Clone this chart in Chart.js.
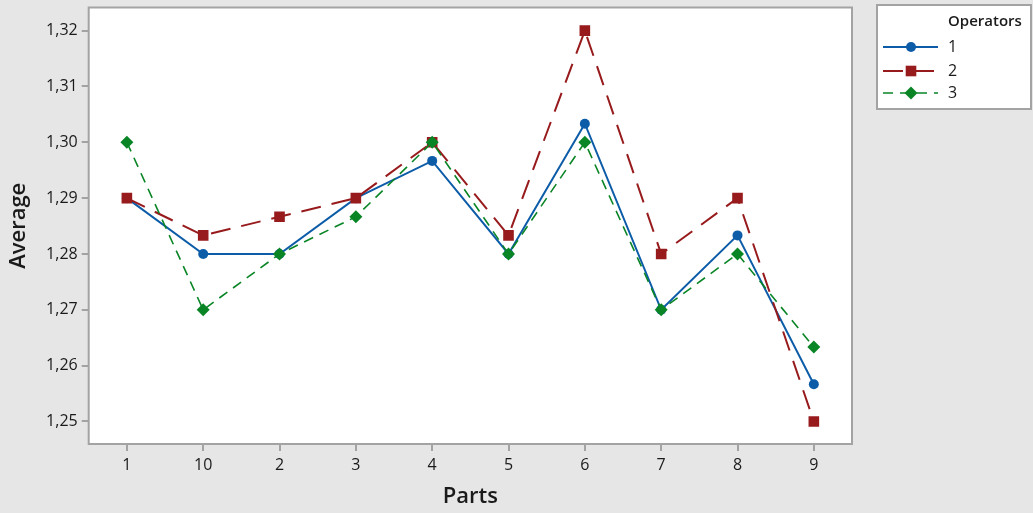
<!DOCTYPE html>
<html>
<head>
<meta charset="utf-8">
<script src="https://cdn.jsdelivr.net/npm/chart.js@4/dist/chart.umd.min.js"></script>
<style>
  html, body { margin: 0; padding: 0; background: #e6e6e6; }
  #wrap { width: 1033px; height: 513px; position: relative; }
</style>
</head>
<body>
<div id="wrap"><canvas id="c" width="1033" height="513"></canvas></div>
<script>
// Parts on the x axis (in the order they appear)
const parts = ['1', '10', '2', '3', '4', '5', '6', '7', '8', '9'];

// Average measurement per part for each operator
const operator1 = [1.29, 1.28, 1.28, 1.29, 1.29667, 1.28, 1.30333, 1.27, 1.28333, 1.25667];
const operator2 = [1.29, 1.28333, 1.28667, 1.29, 1.30, 1.28333, 1.32, 1.28, 1.29, 1.25];
const operator3 = [1.30, 1.27, 1.28, 1.28667, 1.30, 1.28, 1.30, 1.27, 1.28, 1.26333];

// Y axis tick values
const yTicks = [1.25, 1.26, 1.27, 1.28, 1.29, 1.30, 1.31, 1.32];

const operatorNames = ['1', '2', '3'];

const FONT = "'Open Sans', 'Noto Sans', sans-serif";
const GREY = '#a3a3a3';

// Plot frame and legend box
const framePlugin = {
  id: 'frame',
  beforeDraw(chart) {
    const { ctx, chartArea: a } = chart;
    ctx.save();
    ctx.fillStyle = '#e6e6e6';
    ctx.fillRect(0, 0, chart.width, chart.height);
    ctx.fillStyle = '#ffffff';
    ctx.fillRect(a.left, a.top, a.right - a.left, a.bottom - a.top);
    ctx.restore();
  },
  afterDatasetsDraw(chart) {
    const { ctx, chartArea: a } = chart;
    ctx.save();
    ctx.strokeStyle = GREY;
    ctx.lineWidth = 2;
    ctx.strokeRect(a.left, a.top, a.right - a.left, a.bottom - a.top);
    ctx.restore();
  },
  afterDraw(chart) {
    const { ctx } = chart;
    const bx = 877, by = 5, bw = 154, bh = 104;
    ctx.save();
    ctx.fillStyle = '#ffffff';
    ctx.fillRect(bx, by, bw, bh);
    ctx.strokeStyle = GREY;
    ctx.lineWidth = 2;
    ctx.strokeRect(bx, by, bw, bh);

    ctx.fillStyle = '#1a1a1a';
    ctx.textBaseline = 'middle';
    ctx.textAlign = 'left';
    ctx.font = '600 15px ' + FONT;
    ctx.fillText('Operators', 948, 22);

    const rows = [47, 71, 93];
    chart.data.datasets.forEach((ds, i) => {
      const y = rows[i];
      ctx.save();
      ctx.strokeStyle = ds.borderColor;
      ctx.lineWidth = ds.borderWidth;
      ctx.setLineDash(ds.borderDash || []);
      ctx.beginPath();
      ctx.moveTo(883, y);
      ctx.lineTo(938, y);
      ctx.stroke();
      ctx.restore();
      ctx.save();
      ctx.fillStyle = ds.pointBackgroundColor;
      ctx.strokeStyle = ds.pointBorderColor;
      Chart.helpers.drawPoint(ctx, {
        pointStyle: ds.pointStyle,
        radius: ds.pointRadius,
        borderWidth: 0,
        rotation: 0
      }, 911, y);
      ctx.restore();
      ctx.fillStyle = '#1a1a1a';
      ctx.font = '400 16px ' + FONT;
      ctx.fillText(operatorNames[i], 948, y);
    });
    ctx.restore();
  }
};

const blue = '#0d5ca8';
const red = '#971a1c';
const green = '#0a8526';

new Chart(document.getElementById('c'), {
  type: 'line',
  data: {
    labels: parts,
    datasets: [
      {
        label: operatorNames[0], data: operator1, order: 3,
        borderColor: blue, borderWidth: 2, borderDash: [],
        pointStyle: 'circle', pointRadius: 5,
        pointBackgroundColor: blue, pointBorderColor: blue, pointBorderWidth: 0
      },
      {
        label: operatorNames[1], data: operator2, order: 2,
        borderColor: red, borderWidth: 2, borderDash: [20, 11],
        pointStyle: 'rect', pointRadius: 7.5,
        pointBackgroundColor: red, pointBorderColor: red, pointBorderWidth: 0
      },
      {
        label: operatorNames[2], data: operator3, order: 1,
        borderColor: green, borderWidth: 1.6, borderDash: [10, 7],
        pointStyle: 'rectRot', pointRadius: 6.5,
        pointBackgroundColor: green, pointBorderColor: green, pointBorderWidth: 0
      }
    ]
  },
  options: {
    responsive: false,
    animation: false,
    events: [],
    layout: { padding: { top: 5, right: 181, bottom: 0, left: 0 } },
    elements: { line: { tension: 0 } },
    plugins: {
      legend: { display: false },
      tooltip: { enabled: false }
    },
    scales: {
      x: {
        type: 'category',
        offset: true,
        grid: { drawOnChartArea: false, drawTicks: true, tickLength: 7, color: GREY, lineWidth: 2, offset: false },
        border: { display: false },
        ticks: { color: '#1a1a1a', font: { family: FONT, size: 16 }, padding: 5, maxRotation: 0, autoSkip: false },
        title: { display: true, text: 'Parts', color: '#1a1a1a', font: { family: FONT, size: 22, weight: '600' }, padding: { top: 0, bottom: 3 } },
        afterFit(scale) { scale.height = 69; scale.paddingLeft = 0; scale.paddingRight = 0; }
      },
      y: {
        min: 1.24596,
        max: 1.32415,
        grid: { drawOnChartArea: false, drawTicks: true, tickLength: 7, color: GREY, lineWidth: 2 },
        border: { display: false },
        afterBuildTicks(scale) { scale.ticks = yTicks.map(v => ({ value: v })); },
        ticks: {
          color: '#1a1a1a', font: { family: FONT, size: 16 }, padding: 4,
          callback: v => Number(v).toFixed(2).replace('.', ',')
        },
        title: { display: true, text: 'Average', color: '#1a1a1a', font: { family: FONT, size: 22, weight: '600' }, padding: { top: 6, bottom: 0 } },
        afterFit(scale) { scale.width = 88.7; scale.paddingTop = 0; scale.paddingBottom = 0; }
      }
    }
  },
  plugins: [framePlugin]
});
</script>
</body>
</html>
